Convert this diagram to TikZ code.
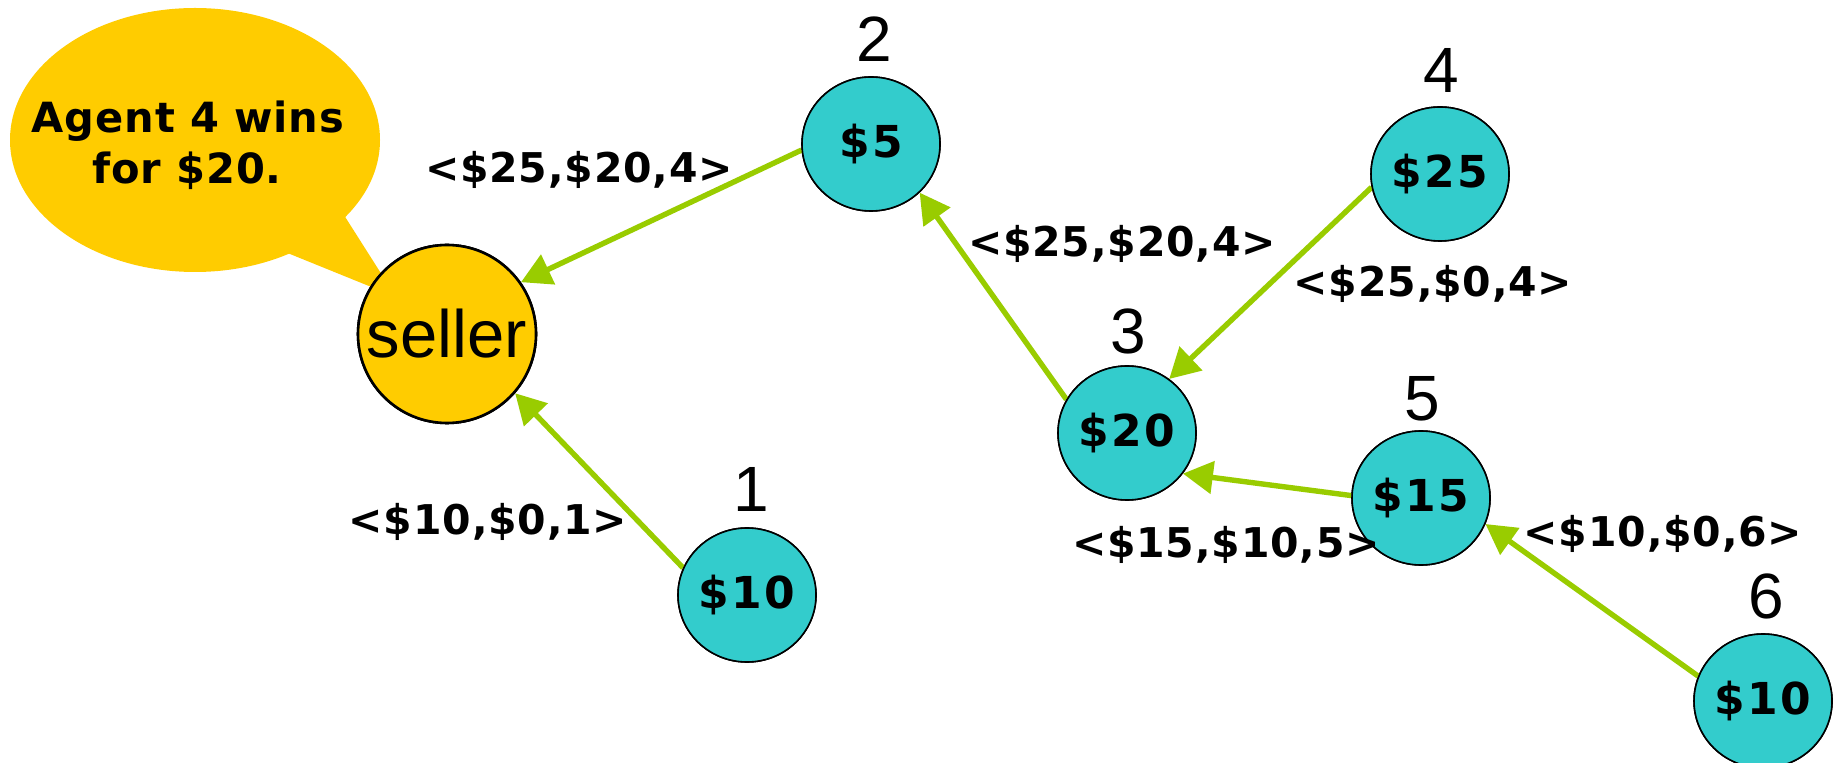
\documentclass[tikz,border=0pt]{standalone}
\usepackage{fontspec}
\setmainfont{Liberation Sans}
\newfontfamily\labfont[LetterSpace=2]{DejaVu Sans}
\newfontfamily\valfont[LetterSpace=5]{DejaVu Sans}
\usetikzlibrary{arrows.meta,shapes.geometric}
\definecolor{nodecyan}{HTML}{33CCCC}
\definecolor{selleryellow}{HTML}{FFCC00}
\definecolor{edgegreen}{HTML}{99CC00}
\tikzset{
  agent/.style={ellipse,draw=black,line width=0.8pt,fill=nodecyan,minimum width=69pt,minimum height=67pt,inner sep=0pt,font=\valfont\bfseries\fontsize{22}{26}\selectfont},
  sellerbox/.style={circle,draw=black,line width=1.3pt,fill=selleryellow,minimum size=89pt,inner sep=0pt,font=\fontsize{33.5}{38}\selectfont},
  numlab/.style={font=\fontsize{32}{36}\selectfont,inner sep=0pt},
  bidlab/.style={font=\labfont\bfseries\fontsize{20.5}{24}\selectfont,inner sep=0pt},
  bubtext/.style={font=\labfont\bfseries\fontsize{20.8}{24}\selectfont,inner sep=0pt,anchor=base},
  edge/.style={draw=edgegreen,line width=2.7pt,-{Triangle[length=15pt,width=16pt]}}
}
\begin{document}
\begin{tikzpicture}[x=0.5pt,y=-0.5pt]
\useasboundingbox (0,0) rectangle (1839,763);
% speech bubble
\fill[selleryellow] (195,140) ellipse [x radius=185, y radius=132];
\coordinate (tailtip) at (396,297);
\fill[selleryellow] (342,212) -- (tailtip) -- (285,252) -- cycle;
\node[bubtext] (bt1) at (188,133) {Agent 4 wins};
\node[bubtext] (bt2) at (187,184) {for \$20.};
% nodes
\node[sellerbox] (seller) at (447,334) {seller};
\node[agent] (n1) at (747,595) {\$10};
\node[agent] (n2) at (871,144) {\$5};
\node[agent] (n3) at (1127,433) {\$20};
\node[agent] (n4) at (1440,174) {\$25};
\node[agent] (n5) at (1421,498) {\$15};
\node[agent] (n6) at (1763,701) {\$10};
% edges
\draw[edge] (n2.185) -- (seller.35);
\draw[edge] (n3.151) -- (n2.-45);
\draw[edge] (n4.191) -- (n3.52);
\draw[edge] (n5.178) -- (n3.-36);
\draw[edge] (n1.157) -- (seller.-41);
\draw[edge] (n6.159) -- (n5.-22);
% redraw nodes over edges
\node[sellerbox] at (seller) {seller};
\node[agent] at (n1) {\$10};
\node[agent] at (n2) {\$5};
\node[agent] at (n3) {\$20};
\node[agent] at (n4) {\$25};
\node[agent] at (n5) {\$15};
\node[agent] at (n6) {\$10};
% number labels
\node[numlab] (l1) at (751,489) {1};
\node[numlab] (l2) at (874,39) {2};
\node[numlab] (l3) at (1128,331) {3};
\node[numlab] (l4) at (1441,70) {4};
\node[numlab] (l5) at (1422,399) {5};
\node[numlab] (l6) at (1766,596) {6};
% bid labels
\node[bidlab] (b1) at (579,170) {<\$25,\$20,4>};
\node[bidlab] (b2) at (1122,244) {<\$25,\$20,4>};
\node[bidlab] (b3) at (1433,284) {<\$25,\$0,4>};
\node[bidlab] (b4) at (1226,545) {<\$15,\$10,5>};
\node[bidlab] (b5) at (1663,534) {<\$10,\$0,6>};
\node[bidlab] (b6) at (488,522) {<\$10,\$0,1>};
\end{tikzpicture}
\end{document}
